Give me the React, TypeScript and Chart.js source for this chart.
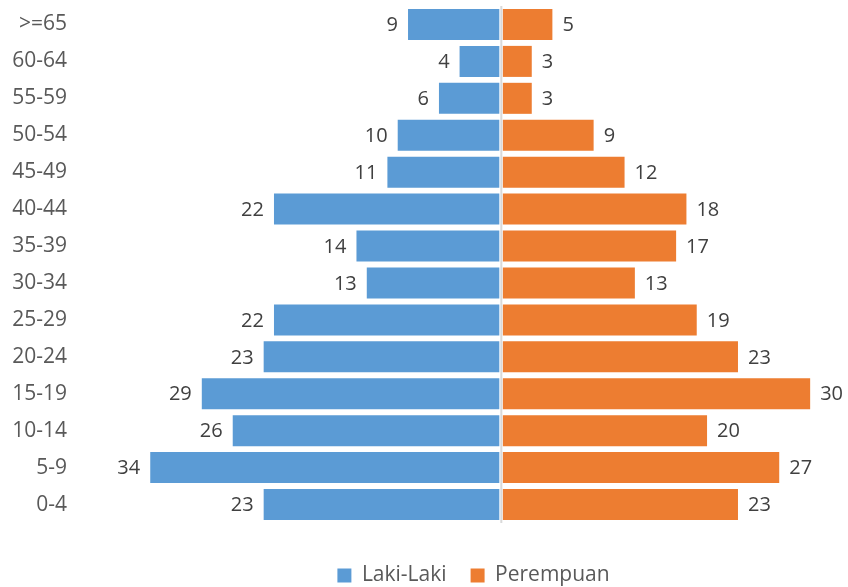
import React, { useEffect, useRef } from "react";
import { Chart, registerables } from "chart.js";

Chart.register(...registerables);

const ageGroups = ["0-4", "5-9", "10-14", "15-19", "20-24", "25-29", "30-34", "35-39", "40-44", "45-49", "50-54", "55-59", "60-64", ">=65"];
const lakiLaki = [23, 34, 26, 29, 23, 22, 13, 14, 22, 11, 10, 6, 4, 9];
const perempuan = [23, 27, 20, 30, 23, 19, 13, 17, 18, 12, 9, 3, 3, 5];
const seriesNames = ["Laki-Laki", "Perempuan"];

const FONT = "'Open Sans', 'Noto Sans', sans-serif";

const centerLine = {
  id: "centerLine",
  afterDatasetsDraw(chart: any) {
    const { ctx, chartArea } = chart;
    const x = chart.scales.x.getPixelForValue(0);
    ctx.save();
    ctx.fillStyle = "#ffffff";
    ctx.fillRect(x - 1.5, chartArea.top, 3.5, chartArea.bottom - chartArea.top);
    ctx.fillStyle = "#D9D9D9";
    ctx.fillRect(x - 0.5, chartArea.top, 2, chartArea.bottom - chartArea.top);
    ctx.restore();
  },
};

const valueLabels = {
  id: "valueLabels",
  afterDatasetsDraw(chart: any) {
    const { ctx } = chart;
    ctx.save();
    ctx.font = `20px ${FONT}`;
    ctx.fillStyle = "#404040";
    ctx.textBaseline = "middle";
    chart.data.datasets.forEach((ds: any, di: number) => {
      const meta = chart.getDatasetMeta(di);
      meta.data.forEach((bar: any, i: number) => {
        const v = Math.abs(ds.data[i]);
        if (di === 0) {
          ctx.textAlign = "right";
          ctx.fillText(String(v), bar.x - 10, bar.y + 1);
        } else {
          ctx.textAlign = "left";
          ctx.fillText(String(v), bar.x + 10, bar.y + 1);
        }
      });
    });
    ctx.restore();
  },
};

export default function App() {
  const ref = useRef<HTMLCanvasElement | null>(null);
  useEffect(() => {
    document.body.style.margin = "0";
    if (!ref.current) return;
    const chart = new Chart(ref.current, {
      type: "bar",
      data: {
        labels: ageGroups,
        datasets: [
          {
            label: seriesNames[0],
            data: lakiLaki.map((v) => -v),
            backgroundColor: "#5B9BD5",
            borderWidth: 0,
          },
          {
            label: seriesNames[1],
            data: perempuan,
            backgroundColor: "#ED7D31",
            borderWidth: 0,
          },
        ],
      },
      options: {
        indexAxis: "y",
        animation: false,
        responsive: true,
        maintainAspectRatio: false,
        layout: { padding: { top: 6, right: 10, bottom: -9, left: 0 } },
        datasets: { bar: { barPercentage: 0.84, categoryPercentage: 1 } },
        scales: {
          x: {
            stacked: true,
            min: -38,
            max: 32.7,
            display: true,
            grid: { display: false },
            border: { display: false },
            ticks: { display: false },
            afterFit: (s: any) => {
              s.height = 18;
            },
          },
          y: {
            stacked: true,
            reverse: true,
            grid: { display: false },
            border: { display: false },
            ticks: {
              color: "#595959",
              font: { family: FONT, size: 21 },
              padding: 34,
            },
            afterFit: (s: any) => {
              s.width = 109;
              s.paddingTop = 0;
              s.paddingBottom = 0;
            },
          },
        },
        plugins: {
          legend: {
            position: "bottom",
            fullSize: false,
            labels: {
              boxWidth: 14,
              boxHeight: 14,
              padding: 24,
              color: "#595959",
              font: { family: FONT, size: 21 },
            },
          },
          tooltip: { enabled: false },
        },
      },
      plugins: [centerLine, valueLabels],
    } as any);
    return () => chart.destroy();
  }, []);
  return (
    <div style={{ width: 848, height: 587, position: "relative" }}>
      <canvas ref={ref} />
    </div>
  );
}
